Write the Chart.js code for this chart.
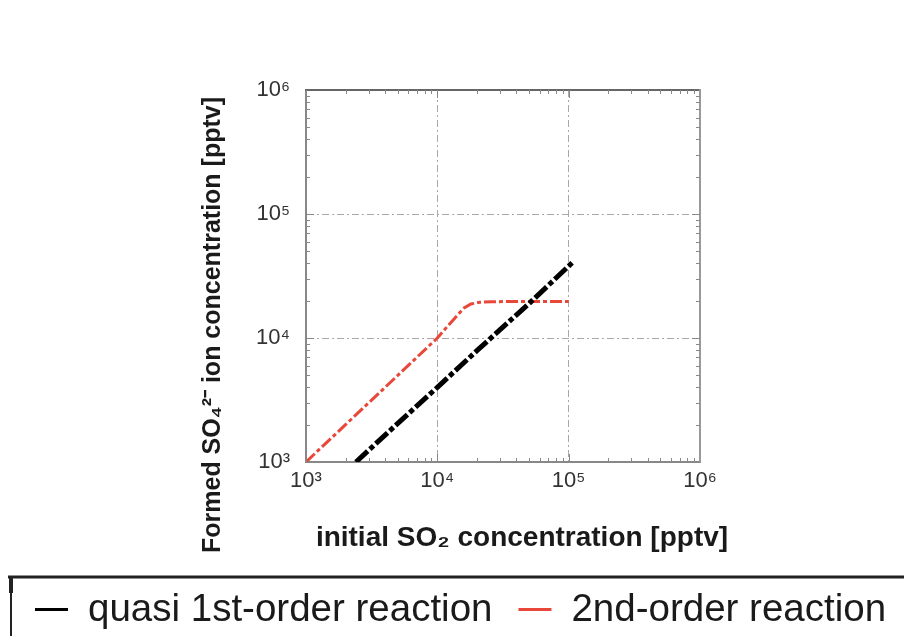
<!DOCTYPE html>
<html>
<head>
<meta charset="utf-8">
<script src="https://cdn.jsdelivr.net/npm/chart.js@4/dist/chart.umd.min.js"></script>
<style>
  html, body { margin: 0; padding: 0; background: #fff; }
  canvas { display: block; }
</style>
</head>
<body>
<canvas id="grafico" width="904" height="636"></canvas>
<script>
// valores (pptv)
const xQuasi = [2400, 5000, 10000, 20000, 50000, 100000, 110000];
const yQuasi = [1000, 2050, 4000, 7900, 19000, 38000, 42000];

const xSegunda = [1000, 2000, 5000, 10000, 12000, 14000, 16000, 18000, 21000, 26000, 35000, 100000];
const ySegunda = [1000, 2000, 5000, 10000, 12500, 15000, 17500, 18800, 19400, 19600, 19700, 19700];

const nomesSeries = ['quasi 1st-order reaction', '2nd-order reaction'];
const coresSeries = ['#000000', '#e8473a'];

const ticksDecada = [1e3, 1e4, 1e5, 1e6];
const rotulosTicks = ['10³', '10⁴', '10⁵', '10⁶'];

const fonte = 'Liberation Sans, Arial, sans-serif';
Chart.defaults.font.family = fonte;

const pontos = (xs, ys) => xs.map((x, i) => ({ x, y: ys[i] }));

// cor da grade: nada nas bordas do quadro
const corGrade = ctx => {
  const v = ctx.tick && ctx.tick.value;
  return (v === 1e3 || v === 1e6) ? 'rgba(0,0,0,0)' : '#a8a8a8';
};

// pequenos traços internos (menores e decadas) nos quatro lados
const tracosMenores = {
  id: 'tracosMenores',
  afterDraw(chart) {
    const { ctx, chartArea: a, scales: { x, y } } = chart;
    ctx.save();
    ctx.strokeStyle = '#888';
    ctx.lineWidth = 1;
    const linha = (x1, y1, x2, y2) => {
      ctx.beginPath(); ctx.moveTo(x1, y1); ctx.lineTo(x2, y2); ctx.stroke();
    };
    for (let d = 1e3; d < 1e6; d *= 10) {
      for (let m = 1; m < 10; m++) {
        const len = m === 1 ? 8 : 4;
        const px = Math.round(x.getPixelForValue(d * m)) + 0.5;
        linha(px, a.bottom, px, a.bottom - len);
        linha(px, a.top, px, a.top + len);
        const py = Math.round(y.getPixelForValue(d * m)) + 0.5;
        linha(a.left, py, a.left + len, py);
        linha(a.right, py, a.right - len, py);
      }
    }
    ctx.restore();
  }
};

// titulos dos eixos
const titulos = {
  id: 'titulos',
  afterDraw(chart) {
    const { ctx } = chart;
    ctx.save();
    ctx.fillStyle = '#1a1a1a';
    ctx.textAlign = 'center';
    ctx.textBaseline = 'middle';

    ctx.font = 'bold 28px ' + fonte;
    ctx.fillText('initial SO₂ concentration [pptv]', 522, 538);

    ctx.translate(213, 325);
    ctx.rotate(-Math.PI / 2);
    ctx.font = 'bold 25px ' + fonte;
    ctx.fillText('Formed SO₄²⁻ ion concentration [pptv]', 0, 0);
    ctx.restore();
  }
};

// legenda em caixa na parte de baixo
const legendaCaixa = {
  id: 'legendaCaixa',
  afterDraw(chart) {
    const { ctx } = chart;
    ctx.save();
    ctx.strokeStyle = '#222';
    ctx.lineWidth = 3;
    ctx.beginPath(); ctx.moveTo(8, 577); ctx.lineTo(904, 577); ctx.stroke();
    ctx.lineWidth = 2;
    ctx.beginPath(); ctx.moveTo(11, 577); ctx.lineTo(11, 636); ctx.stroke();
    ctx.lineWidth = 4;
    ctx.beginPath(); ctx.moveTo(11, 577); ctx.lineTo(11, 593); ctx.stroke();

    ctx.font = '38.5px ' + fonte;
    ctx.textAlign = 'left';
    ctx.textBaseline = 'middle';
    let x = 35;
    chart.data.datasets.forEach(ds => {
      ctx.fillStyle = ds.borderColor;
      ctx.fillRect(x, 608, 33, 3);
      ctx.fillStyle = '#1a1a1a';
      ctx.fillText(ds.label, x + 53, 610);
      x += 53 + ctx.measureText(ds.label).width + 26;
    });
    ctx.restore();
  }
};

new Chart(document.getElementById('grafico'), {
  type: 'line',
  data: {
    datasets: [
      {
        label: nomesSeries[0],
        data: pontos(xQuasi, yQuasi),
        borderColor: coresSeries[0],
        borderWidth: 5,
        borderDash: [16, 3, 5, 3],
        pointRadius: 0,
        tension: 0
      },
      {
        label: nomesSeries[1],
        data: pontos(xSegunda, ySegunda),
        borderColor: coresSeries[1],
        borderWidth: 3,
        borderDash: [12, 3, 4, 3],
        pointRadius: 0,
        tension: 0
      }
    ]
  },
  options: {
    responsive: false,
    animation: false,
    plugins: {
      tooltip: { enabled: false },
      legend: { display: false }
    },
    scales: {
      x: {
        type: 'logarithmic',
        position: 'bottom',
        min: 1e3,
        max: 1e6,
        afterBuildTicks: s => { s.ticks = ticksDecada.map(v => ({ value: v })); },
        afterFit: s => { s.height = s.chart.height - 462; },
        ticks: {
          callback: (v, i) => rotulosTicks[i],
          font: { size: 22 },
          color: '#333',
          padding: 6,
          autoSkip: false,
          maxRotation: 0
        },
        grid: { color: corGrade, lineWidth: 1, drawTicks: false },
        border: { display: true, color: '#888', width: 2, dash: [7, 3, 2, 3] }
      },
      y: {
        type: 'logarithmic',
        position: 'left',
        min: 1e3,
        max: 1e6,
        afterBuildTicks: s => { s.ticks = ticksDecada.map(v => ({ value: v })); },
        afterFit: s => { s.width = 306; },
        ticks: {
          callback: (v, i) => rotulosTicks[i],
          font: { size: 22 },
          color: '#333',
          padding: 16,
          autoSkip: false
        },
        grid: { color: corGrade, lineWidth: 1, drawTicks: false },
        border: { display: true, color: '#888', width: 2, dash: [7, 3, 2, 3] }
      },
      x2: {
        type: 'linear',
        position: 'top',
        min: 0,
        max: 1,
        afterFit: s => { s.height = 90; },
        ticks: { display: false },
        grid: { display: false, drawTicks: false },
        border: { display: true, color: '#666', width: 2 }
      },
      y2: {
        type: 'linear',
        position: 'right',
        min: 0,
        max: 1,
        afterFit: s => { s.width = 204; },
        ticks: { display: false },
        grid: { display: false, drawTicks: false },
        border: { display: true, color: '#999', width: 2 }
      }
    }
  },
  plugins: [tracosMenores, titulos, legendaCaixa]
});
</script>
</body>
</html>
